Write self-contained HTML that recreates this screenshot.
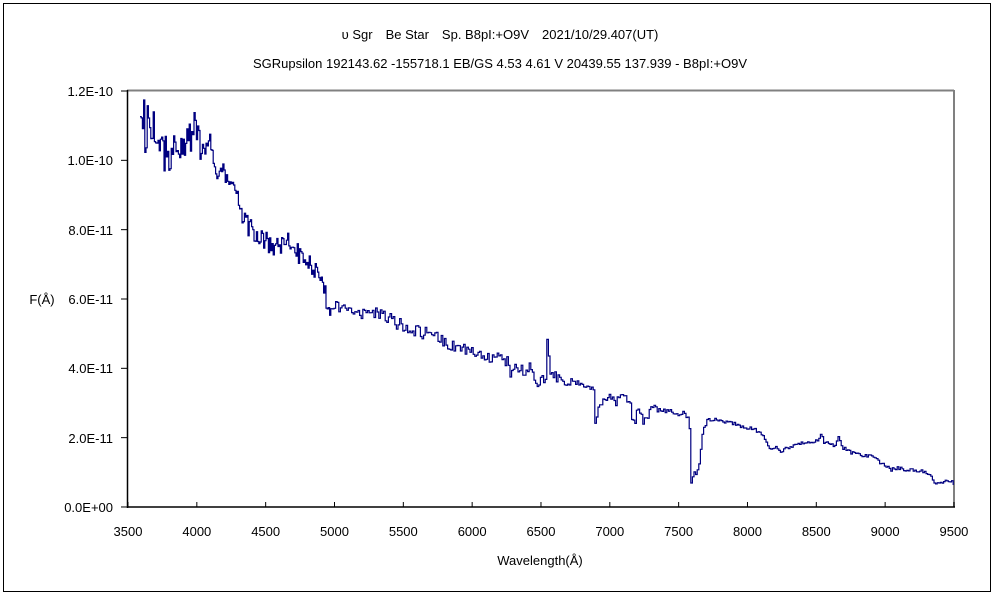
<!DOCTYPE html>
<html><head><meta charset="utf-8"><style>
html,body{margin:0;padding:0;background:#fff;}
body{width:1000px;height:600px;overflow:hidden;position:relative;font-family:"Liberation Sans","Noto Sans CJK JP",sans-serif;}
</style></head><body>
<svg width="1000" height="600" xmlns="http://www.w3.org/2000/svg" style="position:absolute;left:0;top:0">
<rect x="3.5" y="3.5" width="987" height="588" fill="#fff" stroke="#000" stroke-width="1"/>
<g font-family="Liberation Sans, Noto Sans CJK JP, sans-serif" font-size="13" fill="#000">
<text x="500" y="39" text-anchor="middle">υ Sgr　Be Star　Sp. B8pI:+O9V　2021/10/29.407(UT)</text>
<text x="500" y="68" text-anchor="middle">SGRupsilon 192143.62 -155718.1 EB/GS 4.53 4.61 V 20439.55 137.939 - B8pI:+O9V</text>
<text x="113" y="96" text-anchor="end">1.2E-10</text>
<text x="113" y="165" text-anchor="end">1.0E-10</text>
<text x="113" y="235" text-anchor="end">8.0E-11</text>
<text x="113" y="304" text-anchor="end">6.0E-11</text>
<text x="113" y="373" text-anchor="end">4.0E-11</text>
<text x="113" y="443" text-anchor="end">2.0E-11</text>
<text x="113" y="512" text-anchor="end">0.0E+00</text>
<text x="42" y="304" text-anchor="middle">F(Å)</text>
<text x="540" y="565" text-anchor="middle">Wavelength(Å)</text>
<g id="xl" text-anchor="middle"></g>
</g>
<line x1="127" y1="90.5" x2="954" y2="90.5" stroke="#808080" stroke-width="2"/>
<line x1="954" y1="90" x2="954" y2="507" stroke="#808080" stroke-width="2"/>
<line x1="127.5" y1="90" x2="127.5" y2="508" stroke="#000" stroke-width="1.5"/>
<line x1="127" y1="507" x2="955" y2="507" stroke="#000" stroke-width="1.5"/>
<g id="ticks" stroke="#000" stroke-width="1"></g>
<path id="spec" fill="none" stroke="#000080" stroke-width="1.2"/>
</svg>
<script>
var ns="http://www.w3.org/2000/svg";
var xl=document.getElementById('xl'),tk=document.getElementById('ticks');
for(var i=0;i<=12;i++){var x=128+i*68.83;var w=3500+i*500;
var t=document.createElementNS(ns,'text');t.setAttribute('x',x);t.setAttribute('y',536);t.textContent=w;xl.appendChild(t);
var l=document.createElementNS(ns,'line');l.setAttribute('x1',x);l.setAttribute('x2',x);l.setAttribute('y1',502);l.setAttribute('y2',507);tk.appendChild(l);}
for(var j=0;j<=6;j++){var y=91+j*69.33;var l=document.createElementNS(ns,'line');l.setAttribute('x1',121);l.setAttribute('x2',128);l.setAttribute('y1',y);l.setAttribute('y2',y);tk.appendChild(l);}
var P=[[140,150],[145,135],[150,150],[160,142],[168,160],[175,140],[185,150],[190,135],[192,128],[195,130],[200,148],[205,145],[210,140],[213,165],[218,173],[225,175],[230,188],[235,192],[240,212],[245,220],[250,230],[255,235],[260,232],[265,240],[270,245],[280,248],[290,240],[300,255],[310,265],[315,270],[320,275],[325,295],[330,310],[340,305],[350,310],[360,315],[370,312],[380,315],[390,320],[400,325],[410,328],[420,332],[430,335],[440,340],[450,345],[460,348],[470,350],[480,352],[490,357],[500,357],[505,360],[508,365],[510,375],[515,370],[520,368],[525,372],[530,368],[535,378],[537,390],[540,375],[545,378],[546,385],[547,328],[548,330],[549,395],[550,377],[555,375],[560,378],[563,382],[565,390],[570,380],[575,384],[580,383],[585,388],[590,390],[594,390],[595,433],[596,420],[597,408],[600,405],[603,400],[607,398],[610,397],[615,403],[620,397],[625,398],[630,405],[632,422],[635,424],[637,408],[640,410],[643,423],[645,418],[650,412],[653,405],[657,410],[660,411],[665,410],[670,412],[675,413],[680,414],[685,415],[689,420],[690,463],[691,488],[693,472],[696,475],[698,468],[700,455],[701,440],[703,428],[706,422],[708,418],[712,420],[718,420],[722,423],[728,421],[735,425],[740,427],[750,428],[755,430],[760,432],[765,440],[768,447],[772,450],[775,447],[780,452],[785,448],[790,447],[795,445],[800,444],[810,442],[818,440],[821,434],[823,442],[835,445],[838,437],[842,447],[850,452],[860,455],[870,455],[877,460],[883,465],[890,470],[898,468],[905,470],[925,471],[930,475],[933,482],[945,482],[950,481],[954,485]];
var s=424242;
function r(){s|=0;s=s+0x6D2B79F5|0;var t=Math.imul(s^s>>>15,1|s);t=t+Math.imul(t^t>>>7,61|t)^t;return(((t^t>>>14)>>>0)/4294967296)-0.5;}
function base(x){for(var k=0;k<P.length-1;k++){if(x<=P[k+1][0]){var a=P[k],b=P[k+1];return a[1]+(b[1]-a[1])*(x-a[0])/(b[0]-a[0]);}}return P[P.length-1][1];}
var d='',first=true;
for(var x=140;x<=954;x+=(x<330?1.2:1.6)){
var amp=x<155?90:x<200?40:x<330?22:x<560?13:x<690?7:4;
var n=r();if(r()>0.35)n*=0.4;
var y=base(x)+n*amp;
if(x>=545&&x<=550)y=base(x);
if(x>=689&&x<=693)y=base(x);
y=Math.max(100,Math.min(506,y));
var xs=x.toFixed(1);
if(first){d='M'+xs+' '+y.toFixed(1);first=false;}else{d+=' H'+xs+' V'+y.toFixed(1);}
}
document.getElementById('spec').setAttribute('d',d);
</script>
</body></html>
